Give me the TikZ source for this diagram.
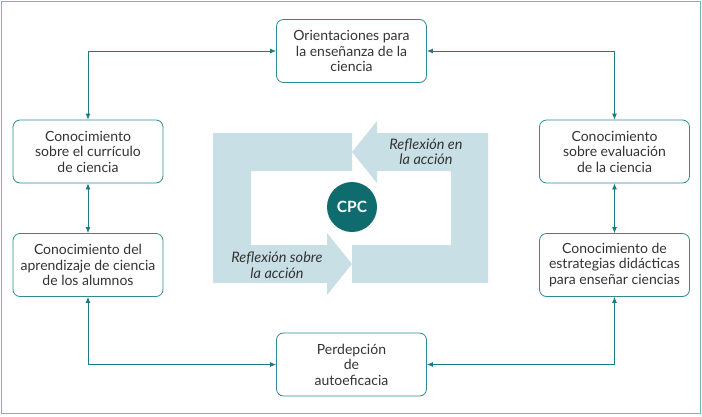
\documentclass[tikz,border=0pt]{standalone}
\usepackage{fontspec}
\setmainfont{Lato}
\usetikzlibrary{arrows.meta}

\definecolor{boxline}{HTML}{2E8A8E}
\definecolor{linkteal}{HTML}{1A7C80}
\definecolor{framecol}{HTML}{7DB3B8}
\definecolor{cyclefill}{HTML}{C8DFE5}
\definecolor{cpcteal}{HTML}{0E6B6E}
\definecolor{textgray}{HTML}{333333}

\begin{document}
\begin{tikzpicture}[x=1pt, y=-1pt,
    box/.style={draw=boxline, line width=0.8pt, rounded corners=7pt,
        minimum width=150pt, minimum height=63pt, inner sep=0pt,
        align=center, text=textgray, font=\fontsize{14}{15.5}\selectfont},
    link/.style={draw=linkteal, line width=0.8pt,
        {Latex[length=6pt,width=5pt]}-{Latex[length=6pt,width=5pt]}},
    refl/.style={align=center, text=textgray,
        font=\itshape\fontsize{14.5}{15.5}\selectfont}]

    % --- Canvas and frame ---
    \useasboundingbox (0,0) rectangle (702,416);
    \draw[framecol, line width=1.5pt] (1.5,1.5) rectangle (700.5,413.5);

    % --- Reflection cycle (two bent arrows) ---
    % Lower-left arrow: top band -> left side -> bottom, head points right
    \fill[cyclefill] (352,133) -- (213,133) -- (213,283) -- (327,283)
        -- (327,295) -- (352,264) -- (327,233) -- (327,245)
        -- (251,245) -- (251,171) -- (352,171) -- cycle;
    % Upper-right arrow: bottom band -> right side -> top, head points left
    \fill[cyclefill] (352,283) -- (488,283) -- (488,133) -- (377,133)
        -- (377,121) -- (352,152) -- (377,183) -- (377,171)
        -- (451,171) -- (451,245) -- (352,245) -- cycle;

    \node[refl] (enaccion) at (426,152) {Reflexión en\\la acción};
    \node[refl] (sobreaccion) at (277,265) {Reflexión sobre\\la acción};

    % Center point CPC
    \node[circle, fill=cpcteal, minimum size=50pt, inner sep=0pt, text=white,
        font=\bfseries\fontsize{15.5}{17}\selectfont] (cpc) at (352,207) {CPC};

    % --- Knowledge boxes ---
    \node[box] (orient) at (351.5,51) {Orientaciones para\\la enseñanza de la\\ciencia};
    \node[box] (curric) at (88,151.5) {Conocimiento\\sobre el currículo\\de ciencia};
    \node[box] (aprend) at (88,265) {Conocimiento del\\aprendizaje de ciencia\\de los alumnos};
    \node[box] (autoef) at (351.5,364.5) {Perdepción\\de\\autoeficacia};
    \node[box] (evalua) at (614.5,151.5) {Conocimiento\\sobre evaluación\\de la ciencia};
    \node[box] (estrat) at (614.5,265) {Conocimiento de\\estrategias didácticas\\para enseñar ciencias};

    % --- Connectors (double headed) ---
    \draw[link] (orient.west) -| (curric.north);
    \draw[link] (curric.south) -- (aprend.north);
    \draw[link] (aprend.south) |- (autoef.west);
    \draw[link] (orient.east) -| (evalua.north);
    \draw[link] (evalua.south) -- (estrat.north);
    \draw[link] (estrat.south) |- (autoef.east);

\end{tikzpicture}
\end{document}
